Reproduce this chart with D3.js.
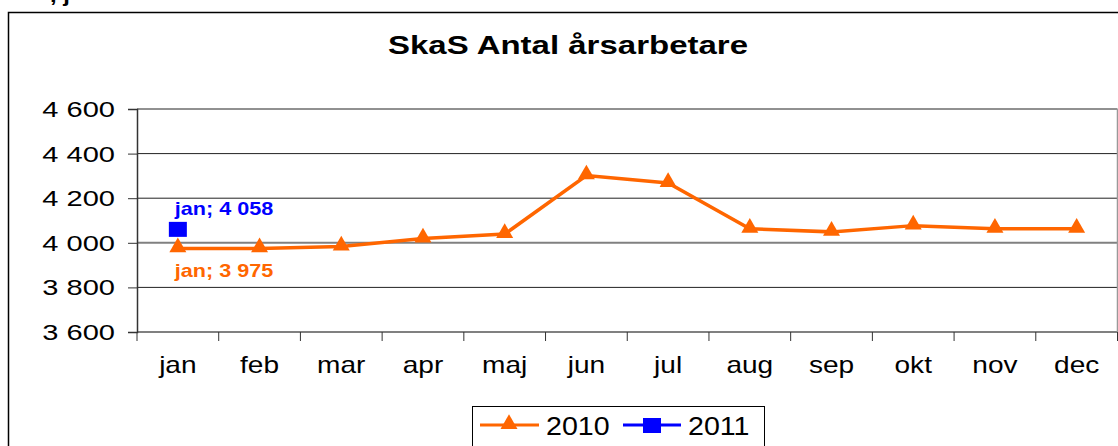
<!DOCTYPE html>
<html>
<head>
<meta charset="utf-8">
<script src="https://cdn.jsdelivr.net/npm/d3@7"></script>
<style>
  body { margin: 0; background: #fff; }
  svg { display: block; font-family: "Liberation Sans", Arial, sans-serif; }
</style>
</head>
<body>
<svg id="chart" width="1118" height="446"></svg>
<script>
const months = ["jan", "feb", "mar", "apr", "maj", "jun", "jul", "aug", "sep", "okt", "nov", "dec"];
const values2010 = [3975, 3975, 3983, 4019, 4039, 4302, 4268, 4063, 4049, 4077, 4063, 4063];
const values2011 = [4058];
const yTicks = [3600, 3800, 4000, 4200, 4400, 4600];

const orange = "#FF6600";
const blue = "#0000FF";
const fmt = d => d3.format(",")(d).replace(",", " ");

const svg = d3.select("#chart");

// text in the picture is stretched sideways, so scale it in x around its anchor
function wideText(parent, x, y, str, size, sx, anchor) {
    return parent.append("text")
        .attr("transform", `translate(${x},${y}) scale(${sx},1)`)
        .attr("text-anchor", anchor || "start")
        .attr("font-size", size)
        .text(str);
}

// chart frame
svg.append("rect").attr("x", 8.5).attr("y", 12.5).attr("width", 1130).attr("height", 460)
    .attr("fill", "#fff").attr("stroke", "#000").attr("stroke-width", 1.5);

// cut-off text from above the chart
wideText(svg, 50, 2, ", j", 20, 1.2).attr("font-weight", "bold");

wideText(svg, 568, 54, "SkaS Antal årsarbetare", 25, 1.32, "middle").attr("font-weight", "bold");

const plotLeft = 137, plotRight = 1117.5, plotTop = 109, plotBottom = 332;

const x = d3.scaleBand().domain(months).range([plotLeft, plotRight]);
const y = d3.scaleLinear().domain([3600, 4600]).range([plotBottom, plotTop]);

// gridlines
svg.append("g").selectAll("line").data(yTicks).join("line")
    .attr("x1", plotLeft).attr("x2", plotRight)
    .attr("y1", d => y(d)).attr("y2", d => y(d))
    .attr("stroke", d => (d === 4000 || d === 3600) ? "#808080" : "#222")
    .attr("stroke-width", d => (d === 4000 || d === 3600) ? 2 : 1);

// plot right edge
svg.append("line").attr("x1", plotRight).attr("x2", plotRight).attr("y1", plotTop).attr("y2", plotBottom)
    .attr("stroke", "#999").attr("stroke-width", 1.5);

// y axis
const yAxis = svg.append("g").attr("transform", `translate(${plotLeft},0)`)
    .call(d3.axisLeft(y).tickValues(yTicks).tickSize(9).tickFormat(""));
yAxis.select(".domain").attr("stroke", "#333").attr("stroke-width", 1.5);
yAxis.selectAll(".tick line").attr("stroke", "#333");
const yLabels = svg.append("g");
yTicks.forEach(t => wideText(yLabels, 115, y(t) + 8, fmt(t), 22, 1.32, "end"));

// x axis ticks at band boundaries
const bounds = months.map(m => x(m)).concat([plotRight]);
svg.append("g").selectAll("line").data(bounds).join("line")
    .attr("x1", d => d).attr("x2", d => d).attr("y1", plotBottom).attr("y2", plotBottom + 9)
    .attr("stroke", "#333").attr("stroke-width", 1);
const xLabels = svg.append("g");
months.forEach(m => wideText(xLabels, x(m) + x.bandwidth() / 2, 373, m, 23, 1.22, "middle"));

const cx = (d, i) => x(months[i]) + x.bandwidth() / 2;

// 2010 line
svg.append("path").datum(values2010)
    .attr("fill", "none").attr("stroke", orange).attr("stroke-width", 3.5)
    .attr("d", d3.line().x(cx).y(d => y(d)));

const tri = d3.symbol().type(d3.symbolTriangle).size(125);
svg.append("g").selectAll("path").data(values2010).join("path")
    .attr("d", tri)
    .attr("transform", (d, i) => `translate(${cx(d, i)},${y(d) - 1})`)
    .attr("fill", orange);

// 2011 marker
svg.append("g").selectAll("rect").data(values2011).join("rect")
    .attr("x", (d, i) => cx(d, i) - 9).attr("y", d => y(d) - 8)
    .attr("width", 18).attr("height", 15).attr("fill", blue);

// data labels
wideText(svg, cx(0, 0) - 3, 215, `jan; ${fmt(values2011[0])}`, 18, 1.2)
    .attr("font-weight", "bold").attr("fill", blue);
wideText(svg, cx(0, 0) - 3, 277, `jan; ${fmt(values2010[0])}`, 18, 1.2)
    .attr("font-weight", "bold").attr("fill", orange);

// legend
const lg = svg.append("g");
lg.append("rect").attr("x", 472.5).attr("y", 406.5).attr("width", 292).attr("height", 50)
    .attr("fill", "#fff").attr("stroke", "#000").attr("stroke-width", 1);
lg.append("line").attr("x1", 480).attr("x2", 539).attr("y1", 425).attr("y2", 425)
    .attr("stroke", orange).attr("stroke-width", 3);
lg.append("path").attr("d", tri).attr("transform", "translate(509,424)").attr("fill", orange);
wideText(lg, 546, 435, "2010", 26, 1.1);
lg.append("line").attr("x1", 623).attr("x2", 681).attr("y1", 425).attr("y2", 425)
    .attr("stroke", blue).attr("stroke-width", 3);
lg.append("rect").attr("x", 643).attr("y", 418).attr("width", 18).attr("height", 15).attr("fill", blue);
wideText(lg, 688, 435, "2011", 26, 1.1);
</script>
</body>
</html>
